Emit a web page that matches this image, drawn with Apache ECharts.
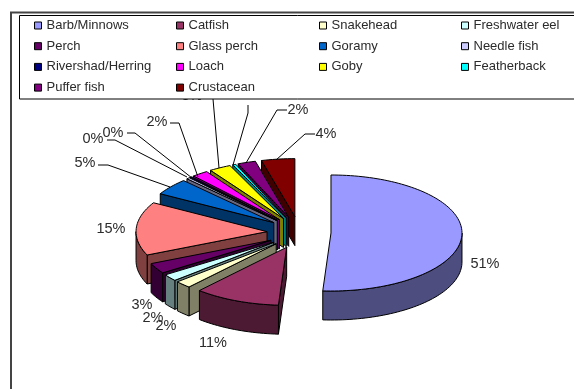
<!DOCTYPE html>
<html>
<head>
<meta charset="utf-8">
<style>html,body{margin:0;padding:0;background:#fff}#chart{width:574px;height:389px}</style>
<script src="https://cdn.jsdelivr.net/npm/echarts@6/dist/echarts.min.js"></script>
</head>
<body>
<div id="chart"></div>
<script>
// Catch composition by fish group, share of total (%)
const categories = ['Barb/Minnows','Catfish','Snakehead','Freshwater eel','Perch','Glass perch','Goramy','Needle fish','Rivershad/Herring','Loach','Goby','Featherback','Puffer fish','Crustacean'];
const shares = [51, 10.6, 2, 1.9, 2.9, 14.9, 4.6, 0.4, 0.3, 2, 2.7, 0.4, 2.2, 4.1];
const palette = ['#9999FF','#993366','#FFFFCC','#CCFFFF','#660066','#FF8080','#0066CC','#CCCCFF','#000080','#FF00FF','#FFFF00','#00FFFF','#800080','#800000'];

// Hand-placed label anchors and leader lines, in slice order
const labelAnchors = [[485,264],[213,343],[166,326],[153,318],[142,305],[111,229],[85,163],[93,139],[113,133],[157,122],[192,96],[240,90],[298,110],[326,134]];
const leaderLines = [null,null,null,null,null,null,
  [[98,165],[108,165],[170,187]],
  [[107,140],[115,140],[187,177]],
  [[127,133],[135,133],[192,178]],
  [[170,123],[179,123],[198,177]],
  [[213,99],[219,168]],
  [[248,105],[248,113],[233,165]],
  [[287,110],[277,110],[246,163]],
  [[315,134],[305,134],[276,160]]];

// Pie geometry
const centerX = 299, centerY = 232.5, radiusX = 131, radiusY = 58, depth = 29;
const explodeX = 32, explodeY = 16;
const textColor = '#2b2b2b';
const labelFont = '14.5px "Liberation Sans", Arial, sans-serif';

const total = shares.reduce((a, b) => a + b, 0);
let running = 0;
const spans = shares.map(v => {
  const from = running / total * Math.PI * 2;
  running += v;
  return [from, running / total * Math.PI * 2];
});

function halfTone(hex) {
  const n = parseInt(hex.slice(1), 16);
  const c = [n >> 16, (n >> 8) & 255, n & 255].map(x => Math.round(x / 2));
  return 'rgb(' + c.join(',') + ')';
}

function arcPoints(ax, ay, a0, a1) {
  const steps = Math.max(2, Math.ceil((a1 - a0) / 0.03));
  const pts = [];
  for (let i = 0; i <= steps; i++) {
    const a = a0 + (a1 - a0) * i / steps;
    pts.push([ax + radiusX * Math.sin(a), ay - radiusY * Math.cos(a)]);
  }
  return pts;
}

const drop = pts => pts.map(p => [p[0], p[1] + depth]);

function sliceItem(params, api) {
  const a0 = api.value(0), a1 = api.value(1);
  const mid = (a0 + a1) / 2;
  const ax = centerX + explodeX * Math.sin(mid);
  const ay = centerY - explodeY * Math.cos(mid);
  const top = palette[api.value(2)];
  const wall = halfTone(top);
  const edge = { stroke: '#000', lineWidth: 1, lineJoin: 'round' };
  const children = [];
  const face = (points, fill) => children.push({ type: 'polygon', shape: { points }, style: Object.assign({ fill }, edge) });

  // Radial wall at the start edge shows on the left half, at the end edge on the right half
  const arc = arcPoints(ax, ay, a0, a1);
  if (Math.sin(a0) < -1e-6) {
    const line = [[ax, ay], arc[0]];
    face(line.concat(drop(line).reverse()), wall);
  }
  if (Math.sin(a1) > 1e-6) {
    const line = [[ax, ay], arc[arc.length - 1]];
    face(line.concat(drop(line).reverse()), wall);
  }
  // Curved rim, only the part facing forward
  const lo = Math.max(a0, Math.PI / 2), hi = Math.min(a1, Math.PI * 1.5);
  if (hi > lo) {
    const rim = arcPoints(ax, ay, lo, hi);
    face(rim.concat(drop(rim).reverse()), wall);
  }
  face([[ax, ay]].concat(arc), top);
  return { type: 'group', children };
}

function labelItem(params, api) {
  const i = api.value(0);
  const children = [];
  if (leaderLines[i]) {
    children.push({ type: 'polyline', shape: { points: leaderLines[i] }, style: { stroke: '#000', lineWidth: 1, fill: null } });
  }
  children.push({
    type: 'text',
    style: {
      x: labelAnchors[i][0], y: labelAnchors[i][1],
      text: Math.round(shares[i]) + '%',
      align: 'center', verticalAlign: 'middle',
      fill: textColor, font: labelFont
    }
  });
  return { type: 'group', children };
}

// Back slices are painted first so that nearer ones overlap them
const paintOrder = categories.map((_, i) => i).sort((p, q) => {
  const m = i => (spans[i][0] + spans[i][1]) / 2;
  return -Math.cos(m(p)) - -Math.cos(m(q));
});

const series = paintOrder.map(i => ({
  type: 'custom',
  name: categories[i],
  coordinateSystem: 'none',
  renderItem: sliceItem,
  silent: true,
  z: 2,
  itemStyle: { color: palette[i] },
  data: [[spans[i][0], spans[i][1], i]]
}));
series.push({
  type: 'custom',
  name: 'labels',
  coordinateSystem: 'none',
  renderItem: labelItem,
  silent: true,
  z: 3,
  data: categories.map((_, i) => [i])
});

// Legend laid out as four columns, filled row by row
const legendColumns = [0, 1, 2, 3].map(c => categories.filter((_, i) => i % 4 === c));
const legendLefts = [34, 176, 319, 461];
const legend = legendColumns.map((names, c) => ({
  data: names,
  orient: 'vertical',
  left: legendLefts[c],
  top: 19,
  padding: 0,
  itemWidth: 7,
  itemHeight: 7,
  itemGap: 7.7,
  z: 10,
  selectedMode: false,
  icon: 'rect',
  itemStyle: { borderColor: '#000', borderWidth: 1 },
  textStyle: { color: textColor, fontSize: 13, fontFamily: '"Liberation Sans", Arial, sans-serif' }
}));

const chart = echarts.init(document.getElementById('chart'), null, { renderer: 'canvas' });
chart.setOption({
  animation: false,
  backgroundColor: '#fff',
  legend,
  series,
  graphic: [
    { type: 'polyline', z: 1, silent: true, shape: { points: [[11, 389], [11, 12.5], [574, 12.5]] }, style: { stroke: '#444', lineWidth: 2, fill: null } },
    { type: 'rect', z: 9, silent: true, shape: { x: 19.5, y: 15.5, width: 570, height: 83.5 }, style: { fill: '#fff', stroke: '#000', lineWidth: 1 } }
  ]
});
</script>
</body>
</html>
